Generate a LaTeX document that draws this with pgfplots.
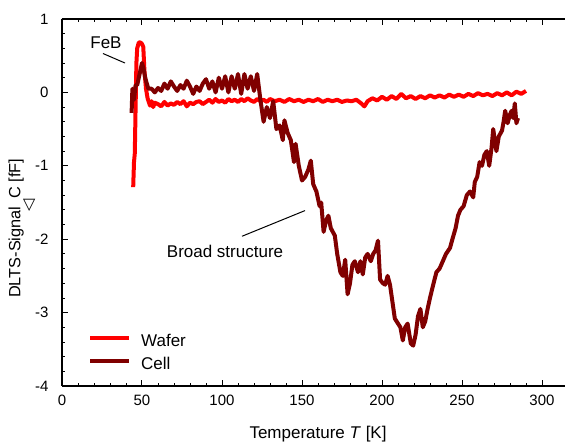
\documentclass[border=0pt]{standalone}
\usepackage{pgfplots}
\pgfplotsset{compat=1.18}
\usepackage{pgfplotstable}
\usepackage{fontspec}
\setmainfont{Liberation Sans}
\newfontfamily\dejavu{DejaVu Sans}
\definecolor{wafer}{RGB}{255,0,0}
\definecolor{cell}{RGB}{128,0,0}

\pgfplotstableread{
T v
44.5 -1.29
45.0 -0.95
45.5 -0.83
46.0 -0.20
46.5 0.40
47.0 0.60
48.0 0.68
49.0 0.68
50.0 0.66
50.8 0.62
51.5 0.30
52.5 0.05
53.5 -0.08
55 -0.18
56 -0.12
57 -0.20
58 -0.14
60 -0.16
62 -0.19
64 -0.13
66 -0.18
68 -0.15
70 -0.17
72 -0.13
74 -0.16
76 -0.12
78 -0.19
80 -0.14
82 -0.16
84 -0.13
86 -0.12
88 -0.16
90 -0.13
92 -0.10
94 -0.14
96 -0.09
98 -0.13
100 -0.11
102 -0.14
104 -0.09
106 -0.12
108 -0.10
110 -0.13
112 -0.09
114 -0.12
116 -0.08
118 -0.11
120 -0.13
122 -0.09
124 -0.12
126 -0.10
128 -0.13
130 -0.09
133 -0.12
136 -0.10
139 -0.13
142 -0.09
145 -0.12
148 -0.10
151 -0.13
154 -0.10
157 -0.12
160 -0.09
163 -0.13
166 -0.10
169 -0.12
172 -0.10
175 -0.13
178 -0.11
181 -0.12
184 -0.10
187 -0.15
189 -0.19
191 -0.12
194 -0.08
197 -0.11
200 -0.06
203 -0.10
206 -0.05
209 -0.09
212 -0.02
215 -0.08
218 -0.05
221 -0.09
224 -0.05
227 -0.08
230 -0.04
233 -0.07
236 -0.04
239 -0.07
242 -0.03
245 -0.06
248 -0.03
251 -0.06
254 -0.02
257 -0.05
260 -0.01
263 -0.04
266 -0.02
269 -0.05
272 -0.01
275 -0.04
278 0.00
281 -0.04
284 0.01
287 -0.02
290 0.02
}\wafertable

\pgfplotstableread{
T v
43.5 -0.28
44 0.05
45 -0.10
46 0.10
47 0.10
48 0.20
49 0.30
50 0.40
51 0.32
52 0.20
53 0.12
54 0.05
56 0.05
58 0.00
60 0.06
62 0.02
64 0.12
66 0.05
68 0.15
70 0.08
72 0.02
74 0.10
76 0.05
78 0.16
80 0.08
82 -0.02
84 0.08
86 0.02
88 0.12
90 0.18
92 0.05
94 0.15
96 0.00
98 0.20
100 0.05
102 0.22
104 0.00
106 0.22
108 0.05
110 0.25
112 -0.02
114 0.25
116 0.05
118 0.22
120 0.02
122 0.25
124 -0.10
126 -0.40
128 -0.20
130 -0.35
132 -0.12
134 -0.50
136 -0.45
138 -0.65
139 -0.38
141 -0.55
143 -0.65
145 -0.95
146 -0.70
148 -1.00
150 -1.20
152 -1.15
154 -1.05
155.5 -0.93
157 -1.25
159 -1.35
161 -1.55
162 -1.50
163.5 -1.90
165 -1.75
166.5 -1.68
168 -1.85
170.5 -1.95
172 -2.20
174 -2.45
175.5 -2.50
177 -2.28
178.5 -2.75
180 -2.60
181.5 -2.35
183 -2.30
185 -2.45
186.5 -2.30
188 -2.48
189.5 -2.25
191 -2.20
193 -2.30
194.5 -2.20
196 -2.15
197.5 -2.02
198.8 -2.55
200.5 -2.60
202 -2.62
203.5 -2.50
205 -2.62
206.5 -2.85
208 -3.08
210 -3.15
211.5 -3.20
213 -3.38
214.5 -3.20
216 -3.15
218 -3.42
219.5 -3.45
221 -3.30
222.5 -3.05
224 -2.95
225.5 -3.20
227 -3.12
228.5 -2.95
230 -2.80
232 -2.62
234 -2.45
236 -2.40
238 -2.30
240 -2.20
242.5 -2.12
244 -2.00
246 -1.85
247.5 -1.68
249 -1.60
251 -1.55
253 -1.40
255 -1.35
257 -1.43
258 -1.22
259.5 -1.15
261 -0.95
262.5 -1.00
264 -0.85
265.5 -0.80
267 -1.00
268.5 -0.75
269.5 -0.50
270.5 -0.65
271.5 -0.80
273 -0.60
275 -0.52
276 -0.40
277 -0.25
278.5 -0.42
280 -0.30
281 -0.25
282 -0.35
283 -0.15
284 -0.42
285 -0.35
}\celltable

\begin{document}
\begin{tikzpicture}
\useasboundingbox (-62pt,-58pt) rectangle (503pt,386pt);
\begin{axis}[
  at={(0,0)}, anchor=south west, scale only axis,
  width=504pt, height=367pt,
  xmin=0, xmax=315, ymin=-4, ymax=1,
  axis x line*=box, axis y line*=left,
  axis line style={line width=1.2pt},
  tick align=inside,
  major tick length=6pt, minor tick length=3pt,
  every tick/.style={black, line width=1pt},
  minor tick style={line width=0.8pt},
  xtick={0,50,100,150,200,250,300},
  minor x tick num=4,
  ytick={-4,-3,-2,-1,0,1},
  yticklabels={-4,-3,-2,-1,0,1},
  minor y tick num=4,
  tick label style={font=\fontsize{15}{18}\selectfont},
  /pgf/number format/assume math mode=true,
  xticklabel shift=5pt,
  yticklabel shift=10pt,
  xlabel={Temperature \textit{T} [K]},
  ylabel={DLTS-Signal\kern-5pt\raisebox{-13pt}{\fontsize{16}{16}\selectfont\dejavu ◁}\kern1pt C [fF]},
  label style={font=\fontsize{17}{20}\selectfont},
  xlabel style={at={(axis description cs:0.508,0)}, anchor=center, yshift=-48pt},
  ylabel style={at={(axis description cs:-0.0794,0.43)}, anchor=center, font=\fontsize{16.3}{19}\selectfont},
  legend cell align=left,
  legend image code/.code={\draw[#1, line cap=butt] (0pt,4pt) -- (39pt,4pt);},
  legend style={at={(axis cs:16.25,-3.30)}, anchor=north west, draw=none, fill=none,
    inner sep=0pt, column sep=10pt, row sep=8pt,
    font=\fontsize{17}{20}\selectfont,
    nodes={inner sep=0pt, text height=12pt, text depth=3pt}},
]
\addplot[wafer, line width=4pt, line join=round] table[x=T,y=v] {\wafertable};
\addlegendentry{Wafer}
\addplot[cell, line width=4pt, line join=round] table[x=T,y=v] {\celltable};
\addlegendentry{Cell}
\node[font=\fontsize{17}{20}\selectfont] at (axis cs:27.5,0.67) {FeB};
\draw[line width=1pt] (axis cs:25.6,0.53) -- (axis cs:39.4,0.40);
\node[font=\fontsize{17}{20}\selectfont] at (axis cs:101.9,-2.17) {Broad structure};
\draw[line width=1pt] (axis cs:112.5,-1.96) -- (axis cs:151.9,-1.61);
\end{axis}
\end{tikzpicture}
\end{document}
